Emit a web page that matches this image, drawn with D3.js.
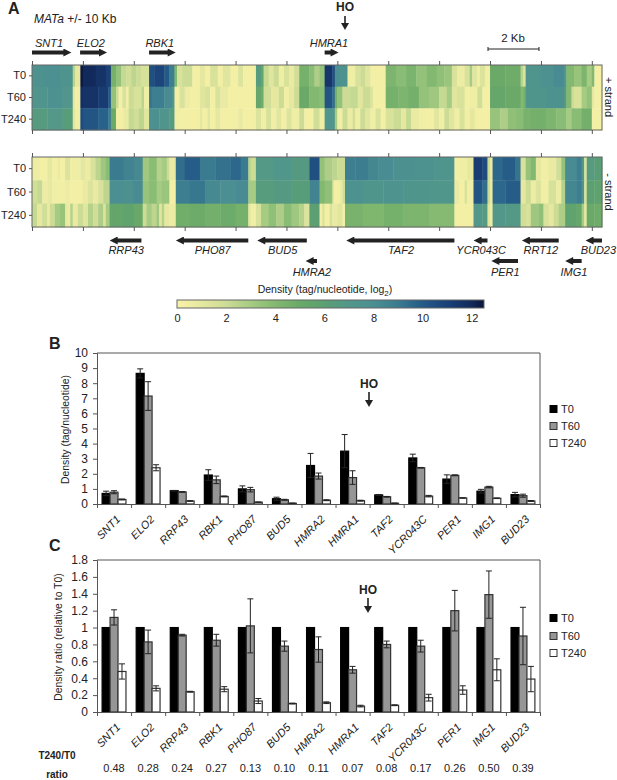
<!DOCTYPE html>
<html>
<head>
<meta charset="utf-8">
<script src="https://cdn.jsdelivr.net/npm/d3@7"></script>
<style>
  html, body { margin: 0; padding: 0; background: #fff; }
  text { font-family: "Liberation Sans", Arial, sans-serif; fill: #222; }
</style>
</head>
<body>
<div id="viz_tool"></div>
<script>
// heatmap rows: [end bin, log2 density], one bin is 0.1 kb
var plusT0 = [[5,7.6],[11,7.9],[16,7.5],[17,2.5],[19,1],[20,12.4],[25,12],[29,11.6],[31,11],[33,4.5],[35,3.5],[37,2.2],[39,1.8],[41,2.4],[43,2],[46,1.6],[48,10.4],[52,10.8],[54,10],[56,8.8],[57,4],[59,1.5],[63,2],[66,.3],[68,1],[70,.3],[73,1.5],[75,.4],[78,1.2],[81,.3],[83,1.4],[88,.3],[90,6.5],[91,5.5],[93,2.2],[95,1.2],[97,2],[99,.5],[101,1.5],[103,.8],[105,1.8],[109,4.5],[111,3.8],[113,2.8],[115,3.5],[118,11.5],[119,10.5],[121,8],[124,7.6],[127,.5],[129,1.5],[131,2],[133,1.2],[139,.3],[143,4.2],[147,3.8],[151,4.3],[155,3.5],[159,4],[162,3.6],[165,3.3],[167,1.5],[170,.6],[172,1.5],[173,3],[175,1.2],[176,.4],[178,1.4],[180,.4],[186,5],[192,4.8],[193,2.5],[194,1.5],[200,7.4],[205,7.7],[209,8.2],[210,7],[213,4],[216,3.4],[218,4.2],[220,3],[221,4],[224,.3]];
var plusT60 = [[6,7.4],[12,7.7],[16,7.2],[17,1],[19,.4],[20,11.8],[26,11.6],[30,11.2],[31,10],[33,3.5],[34,2],[35.5,.3],[37,1.5],[38,.4],[40,2],[43,1.5],[44,2.5],[46,.5],[47,9.2],[52,8.8],[55,8.2],[56,7],[58,.4],[60,1.5],[62,.6],[66,.3],[68,1.2],[70,1.5],[72,.3],[74,1.5],[77,.8],[88,.3],[90,5.3],[91,4.8],[94,1.8],[97,1],[99,2],[101,.4],[103,1],[105,2],[109,5],[113,4],[115,3.8],[118,10.2],[119,9.5],[120,4.5],[122,3.5],[125,2],[128,2.2],[130,1.2],[133,2],[134,1.3],[139,.3],[144,4.5],[148,4.2],[152,4.6],[156,3.5],[160,3.2],[163,2.2],[165,3],[167,1.2],[170,1.5],[172,.3],[175,.5],[177,1.8],[180,.3],[186,5.3],[192,5],[193,4],[194,4.5],[202,7.3],[209,7.6],[210,6.5],[212,4],[213,2],[216,1.5],[218,3],[220,3.5],[221,1],[224,.3]];
var plusT240 = [[6,6.6],[12,6.9],[16,6.3],[17,1.2],[19,.5],[20,10.6],[26,10.2],[30,9.8],[31,9],[33,5],[36,.3],[38,.8],[40,2.2],[42,1.8],[44,2.4],[46,1.2],[50,7.8],[54,7.4],[56,6.6],[58,.4],[66,.3],[67,1],[69,.3],[70,1.2],[72,.3],[74,1],[81,.3],[83,.8],[88,.3],[90,1.4],[92,.4],[94,1.6],[96,.4],[98,1.2],[100,.3],[102,1.4],[105,.5],[107,2],[110.6,.3],[113,1.8],[115,.5],[119,7.2],[120,3],[122,.4],[124,2],[126,.6],[127,1.8],[129,.5],[131,2],[133,1.2],[135,.4],[137,1.5],[139,.3],[142,1.5],[145,2],[147,1],[149,2.2],[152,.8],[155,.4],[158,.3],[160,1.2],[162,.4],[164,2],[166,1.2],[168,.5],[170,1.5],[172,.4],[174,1],[180,.3],[184,3.4],[187,2.8],[190,3.6],[193,3.8],[196,4.4],[202,4.6],[206,4.2],[210,3.8],[212,3],[216,3.8],[220,4.6],[224,.3]];
var minusT0 = [[3,.6],[6,.3],[8,1],[10,.3],[11,.8],[13,.3],[15,1.4],[16,.4],[19,.5],[21,1.1],[23,.6],[25,1.5],[27,2.4],[29,3.2],[30.5,3.8],[36,9],[40,8.6],[43.5,8.3],[46,3.2],[49,3.8],[51,2.6],[53,3],[54,2],[56.5,.8],[60,9.4],[66,9.9],[72,9],[78,9.3],[82,9.6],[85,9],[86,2.5],[88,2],[95,6.8],[102,7.1],[109,6.7],[113,10.4],[115,3.5],[118,2.8],[120,2.4],[123,2],[127,8.8],[132,8.9],[136,8.4],[142,8.1],[150,7.8],[158,7.6],[166,7.4],[168,.4],[171,.5],[173.5,1],[177,11.2],[179,10.6],[180,2],[181,.8],[185,9.6],[190,9.9],[192,9.2],[194,1.5],[196,3.4],[198,4],[200,1],[203,.4],[206,.8],[208,1.8],[209.5,3.5],[214,8.2],[216,8.8],[217,7],[218,1.5],[221,6.6],[224,6.2]];
var minusT60 = [[2,1.8],[4,2.2],[6,.6],[8,.9],[13,.4],[15,.6],[20,.3],[22,.8],[24,1.4],[26,.8],[28,1.5],[30.5,2.4],[36,8],[40,7.8],[43.5,8.2],[46,3.4],[49,3.8],[51,3],[54,3.3],[56.5,.3],[62,8.8],[68,9.1],[74,8.3],[80,8],[85,8.2],[88,3],[95,6.4],[102,6.7],[109,6.3],[113,8.6],[115,4],[118,3.6],[118.5,2],[121,.3],[122,.8],[123,1.8],[130,7.6],[138,7.3],[146,7.5],[156,7.3],[166,7.1],[168,.8],[170,.3],[171,1.5],[173.5,.4],[177,10.2],[179,9.4],[180,2],[181,.8],[186,9.6],[192,9.9],[194,1],[196,2],[198,.6],[200,1.4],[203,.4],[206,1.6],[208,.6],[209.5,2.6],[214,8.4],[216,8.8],[217,7.4],[218,1.5],[221,6],[224,5.7]];
var minusT240 = [[2,2.2],[4,1],[6,1.8],[7,.8],[9,2],[11,3],[13,3.4],[14,1],[15,.6],[16,2.6],[18,.8],[20,2],[22,1.2],[24,2.6],[26,1.8],[28,2.8],[29,1.4],[30.5,3],[36,5.4],[40,5.6],[43.5,5.1],[45,2],[47,3],[49,2.4],[50,3.2],[51,1.2],[52,2.6],[54,1],[56.5,.6],[62,4.7],[68,4.9],[74,4.6],[80,4.9],[85,4.5],[86,1],[88,.4],[90,1.6],[93,3],[96,3.6],[99,2.8],[102,3.8],[105,3.2],[107,2.6],[109,1.4],[113,6],[114,.3],[115,1.4],[117,.3],[118,1.6],[120,.8],[122,1.2],[123,.3],[130,4.4],[138,4.1],[146,4.5],[156,4.2],[166,3.9],[173.5,.3],[177,7],[179,6.6],[180,1.2],[181,.5],[186,7],[192,6.8],[194,1.8],[196,1.5],[199,3.2],[201,3.6],[203,1.5],[205,1],[207,2],[209.5,2.8],[214,5.6],[216,5.2],[217,3],[218,1],[221,5],[224,4.8]];

var rowNames = ["T0", "T60", "T240"];

// genes in bins
var plusGenes = ["SNT1", "ELO2", "RBK1", "HMRA1"];
var plusStart = [0, 18.9, 46, 115];
var plusEnd = [15, 29, 56, 120];
var minusGenes = ["RRP43", "PHO87", "BUD5", "HMRA2", "TAF2", "YCR043C", "PER1", "RRT12", "IMG1", "BUD23"];
var minusStart = [31, 57, 89, 108, 124, 174, 181, 193, 210, 218];
var minusEnd = [43, 85, 108, 112, 166, 179, 191, 207, 216, 224];
var minusLane = [0, 0, 0, 1, 0, 0, 1, 0, 1, 0];

var colorStops = [0, 1, 2, 3, 4, 5, 6, 7, 8, 9, 10, 11, 12, 12.5];
var colorValues = ["#f8f3a9", "#e6e8a0", "#ccdc95", "#a6cb83", "#82b870", "#6aa968", "#5b9f72", "#52978a", "#4b8f92", "#3a7b90", "#245a87", "#1a4078", "#122a5b", "#0c1538"];
var colorTicks = [0, 2, 4, 6, 8, 10, 12];

// bar panels
var genes = ["SNT1", "ELO2", "RRP43", "RBK1", "PHO87", "BUD5", "HMRA2", "HMRA1", "TAF2", "YCR043C", "PER1", "IMG1", "BUD23"];
var seriesNames = ["T0", "T60", "T240"];
var seriesFill = ["#000", "#969696", "#fff"];

var densT0 = [.7, 8.65, .88, 1.92, 1.0, .35, 2.55, 3.5, .6, 3.05, 1.65, .85, .62];
var densT60 = [.78, 7.15, .8, 1.6, .95, .28, 1.85, 1.75, .48, 2.4, 1.9, 1.12, .55];
var densT240 = [.3, 2.4, .2, .5, .12, .05, .25, .22, .05, .52, .4, .38, .2];
var densErrT0 = [.15, .3, .02, .35, .2, .1, .8, 1.1, .03, .25, .28, .12, .15];
var densErrT60 = [.1, .95, .02, .25, .15, .03, .2, .45, .02, .02, .03, .05, .1];
var densErrT240 = [.03, .2, .02, .03, .01, .01, .03, .03, .01, .05, .01, .02, .03];

var ratioT0 = [1, 1, 1, 1, 1, 1, 1, 1, 1, 1, 1, 1, 1];
var ratioT60 = [1.12, .83, .91, .85, 1.02, .78, .74, .5, .8, .78, 1.2, 1.39, .9];
var ratioT240 = [.48, .28, .24, .27, .13, .1, .11, .07, .08, .17, .26, .5, .39];
var ratioErrT0 = [0, 0, 0, 0, 0, 0, 0, 0, 0, 0, 0, 0, 0];
var ratioErrT60 = [.09, .14, .01, .07, .32, .06, .15, .04, .04, .07, .24, .28, .34];
var ratioErrT240 = [.09, .03, .005, .03, .03, .005, .01, .01, .005, .04, .05, .13, .15];

var ratioLabels = ["0.48", "0.28", "0.24", "0.27", "0.13", "0.10", "0.11", "0.07", "0.08", "0.17", "0.26", "0.50", "0.39"];

var svg = d3.select("#viz_tool").append("svg")
    .attr("width", 617)
    .attr("height", 780)
    .style("display", "block");

svg.append("defs").append("marker")
    .attr("id", "head")
    .attr("viewBox", "0 0 10 10")
    .attr("refX", 1).attr("refY", 5)
    .attr("markerWidth", 9).attr("markerHeight", 8)
    .attr("markerUnits", "userSpaceOnUse")
    .attr("orient", "auto")
  .append("path")
    .attr("d", "M0,0L10,5L0,10Z")
    .attr("fill", "#222");

var color = d3.scaleLinear().domain(colorStops).range(colorValues);
var binScale = d3.scaleLinear().domain([0, 224]).range([32, 602]);

function addText(x, y, str, size, opts) {
    opts = opts || {};
    return svg.append("text")
        .attr("x", x).attr("y", y)
        .attr("font-size", size + "px")
        .attr("font-weight", opts.bold ? "bold" : null)
        .attr("font-style", opts.italic ? "italic" : null)
        .attr("text-anchor", opts.anchor || "start")
        .text(str);
}

function downArrow(x, y1, y2) {
    svg.append("line")
        .attr("x1", x).attr("x2", x)
        .attr("y1", y1).attr("y2", y2 - 7)
        .attr("stroke", "#222").attr("stroke-width", 1.6);
    svg.append("path")
        .attr("d", "M" + (x - 4) + "," + (y2 - 7) + "L" + (x + 4) + "," + (y2 - 7) + "L" + x + "," + y2 + "Z")
        .attr("fill", "#222");
}

function styleAxis(g) {
    g.selectAll("path, line").attr("stroke", "#555").attr("stroke-width", 1);
    g.selectAll("text").attr("fill", "#222");
}

/* Heatmap strip */
function drawHeat(rows, top, bottom) {
    var yBand = d3.scaleBand().domain(rowNames).range([top, bottom]);
    var g = svg.append("g");

    rows.forEach(function(row, i) {
        var prev = 0;
        var cells = row.map(function(d) {
            var c = {start: prev, end: d[0], value: d[1]};
            prev = d[0];
            return c;
        });
        g.selectAll(null)
            .data(cells)
            .enter()
            .append("rect")
            .attr("x", function(d) { return binScale(d.start); })
            .attr("y", yBand(rowNames[i]))
            .attr("width", function(d) { return binScale(d.end) - binScale(d.start) + 0.4; })
            .attr("height", yBand.bandwidth() + 0.4)
            .attr("fill", function(d) { return color(d.value); });
    });

    svg.append("rect")
        .attr("x", 32).attr("y", top)
        .attr("width", 570).attr("height", bottom - top)
        .attr("fill", "none").attr("stroke", "#666").attr("stroke-width", 1);

    var tickVals = d3.range(0, 224, 20);
    svg.append("g").attr("transform", "translate(0," + top + ")")
        .call(d3.axisTop(binScale).tickValues(tickVals).tickSize(4).tickFormat("").tickSizeOuter(0))
        .call(styleAxis).select(".domain").remove();
    svg.append("g").attr("transform", "translate(0," + bottom + ")")
        .call(d3.axisBottom(binScale).tickValues(tickVals).tickSize(4).tickFormat("").tickSizeOuter(0))
        .call(styleAxis).select(".domain").remove();

    var yAxis = svg.append("g").attr("transform", "translate(32,0)")
        .call(d3.axisLeft(yBand).tickSize(3).tickPadding(3))
        .call(styleAxis);
    yAxis.select(".domain").remove();
    yAxis.selectAll("text").attr("font-size", "11px").attr("font-family", '"Liberation Sans", Arial, sans-serif');
}

drawHeat([plusT0, plusT60, plusT240], 65, 130);
drawHeat([minusT0, minusT60, minusT240], 157, 227);

/* Gene arrows */
function geneArrow(x1, x2, y) {
    svg.append("line")
        .attr("x1", x1).attr("x2", x2)
        .attr("y1", y).attr("y2", y)
        .attr("stroke", "#222").attr("stroke-width", 4)
        .attr("marker-end", "url(#head)");
}

plusGenes.forEach(function(name, i) {
    var a = binScale(plusStart[i]), b = binScale(plusEnd[i]);
    geneArrow(a, b - 6, 52.5);
    addText((a + b) / 2 - 2, 47, name, 11, {italic: true, anchor: "middle"});
});

minusGenes.forEach(function(name, i) {
    var a = binScale(minusStart[i]), b = binScale(minusEnd[i]);
    var lane = minusLane[i];
    geneArrow(b, a + 6, lane ? 261 : 240.5);
    var shift = name == "BUD23" ? 4 : 0;
    addText((a + b) / 2 + shift, lane ? 276 : 254, name, 11, {italic: true, anchor: "middle"});
});

/* Colour bar */
var cbScale = d3.scaleLinear().domain([0, 12.5]).range([177, 484]);
var grad = svg.select("defs").append("linearGradient").attr("id", "cbar");
colorStops.forEach(function(s, i) {
    grad.append("stop")
        .attr("offset", (s / 12.5 * 100) + "%")
        .attr("stop-color", colorValues[i]);
});
svg.append("rect")
    .attr("x", 177).attr("y", 300)
    .attr("width", 307).attr("height", 8)
    .attr("fill", "url(#cbar)")
    .attr("stroke", "#666").attr("stroke-width", 1);
var cbAxis = svg.append("g").attr("transform", "translate(0,308)")
    .call(d3.axisBottom(cbScale).tickValues(colorTicks).tickSize(0).tickPadding(6));
cbAxis.select(".domain").remove();
cbAxis.selectAll("text").attr("font-size", "11px").attr("font-family", '"Liberation Sans", Arial, sans-serif').attr("fill", "#222");

var cbTitle = addText(325, 293, "Density (tag/nucleotide, log", 10.5, {anchor: "middle"});
cbTitle.append("tspan").attr("font-size", "8px").attr("dy", 3).text("2");
cbTitle.append("tspan").attr("dy", -3).text(")");

/* Panel A annotations */
addText(8, 14, "A", 16, {bold: true});
var matTitle = addText(34, 23, "MATa", 12, {italic: true});
matTitle.append("tspan").attr("font-style", "normal").text(" +/- 10 Kb");
addText(345, 11, "HO", 12, {bold: true, anchor: "middle"});
downArrow(345, 16, 30);

svg.append("path")
    .attr("d", "M488,47V51M488,49H539M539,47V51")
    .attr("stroke", "#222").attr("fill", "none").attr("stroke-width", 1);
addText(513, 42, "2 Kb", 11.5, {anchor: "middle"});

addText(0, 0, "+ strand", 11)
    .attr("text-anchor", "middle")
    .attr("transform", "translate(605,97) rotate(90)");
addText(0, 0, "- strand", 11)
    .attr("text-anchor", "middle")
    .attr("transform", "translate(605,192) rotate(90)");

/* Bar panels */
function drawBars(series, errors, top, bottom, yMax, yTicks, yTitle, titleX) {
    var x0 = d3.scaleBand().domain(genes).range([97, 540]).paddingInner(0.3).paddingOuter(0.15);
    var x1 = d3.scaleBand().domain(seriesNames).range([0, x0.bandwidth()]);
    var y = d3.scaleLinear().domain([0, yMax]).range([bottom, top]);
    var sep = d3.scaleLinear().domain([0, genes.length]).range([97, 540]);

    seriesNames.forEach(function(s, k) {
        var rows = genes.map(function(g, i) {
            return {gene: g, value: series[k][i], err: errors[k][i]};
        });
        svg.append("g").selectAll("rect")
            .data(rows)
            .enter()
            .append("rect")
            .attr("x", function(d) { return x0(d.gene) + x1(s); })
            .attr("y", function(d) { return y(d.value); })
            .attr("width", x1.bandwidth())
            .attr("height", function(d) { return bottom - y(d.value); })
            .attr("fill", seriesFill[k])
            .attr("stroke", k == 0 ? "#000" : "#333")
            .attr("stroke-width", 1.2);

        svg.append("g").selectAll("path")
            .data(rows.filter(function(d) { return d.err > 0; }))
            .enter()
            .append("path")
            .attr("fill", "none")
            .attr("stroke", "#222")
            .attr("stroke-width", 1)
            .attr("d", function(d) {
                var cx = x0(d.gene) + x1(s) + x1.bandwidth() / 2;
                var hi = y(d.value + d.err), lo = y(Math.max(0, d.value - d.err));
                return "M" + (cx - 3) + "," + hi + "H" + (cx + 3) + "M" + cx + "," + hi + "V" + lo +
                       "M" + (cx - 3) + "," + lo + "H" + (cx + 3);
            });
    });

    // frame
    svg.append("path")
        .attr("d", "M97," + top + "H540V" + bottom)
        .attr("fill", "none").attr("stroke", "#555").attr("stroke-width", 1);

    var yAxis = svg.append("g").attr("transform", "translate(97,0)")
        .call(d3.axisLeft(y).tickValues(yTicks).tickSize(4).tickPadding(5).tickFormat(function(d) { return d3.format("~g")(d); }))
        .call(styleAxis);
    yAxis.selectAll("text").attr("font-size", "12px").attr("font-family", '"Liberation Sans", Arial, sans-serif');

    svg.append("g").attr("transform", "translate(0," + bottom + ")")
        .call(d3.axisBottom(sep).ticks(genes.length).tickSize(4).tickFormat(""))
        .call(styleAxis);

    genes.forEach(function(g) {
        addText(0, 0, g, 11, {italic: true, anchor: "end"})
            .attr("transform", "translate(" + (x0(g) + x0.bandwidth() / 2 + 7) + "," + (bottom + 16) + ") rotate(-45)");
    });

    addText(0, 0, yTitle, 10.4, {anchor: "middle"})
        .attr("transform", "translate(" + titleX + "," + ((top + bottom) / 2 + 1) + ") rotate(-90)");

    return x0;
}

function drawLegend(centers) {
    seriesNames.forEach(function(s, i) {
        svg.append("rect")
            .attr("x", 550).attr("y", centers[i] - 3.5)
            .attr("width", 7).attr("height", 7)
            .attr("fill", seriesFill[i])
            .attr("stroke", i == 0 ? "#000" : "#333");
        addText(561, centers[i] + 4, s, 11);
    });
}

var densTicks = d3.range(0, 11);
drawBars([densT0, densT60, densT240], [densErrT0, densErrT60, densErrT240], 353, 504, 10, densTicks, "Density (tag/nucleotide)", 69);
addText(49, 349, "B", 16, {bold: true});
addText(369, 388, "HO", 12, {bold: true, anchor: "middle"});
downArrow(369, 392, 407);
drawLegend([409, 426, 443]);

var ratioTicks = [0, .2, .4, .6, .8, 1, 1.2, 1.4, 1.6, 1.8];
var xRatio = drawBars([ratioT0, ratioT60, ratioT240], [ratioErrT0, ratioErrT60, ratioErrT240], 560, 712, 1.8, ratioTicks, "Density ratio (relative to T0)", 62);
addText(49, 551, "C", 16, {bold: true});
addText(368, 594, "HO", 12, {bold: true, anchor: "middle"});
downArrow(368, 598, 613);
drawLegend([618, 636, 653]);

/* T240/T0 row */
addText(57, 759, "T240/T0", 10, {bold: true, anchor: "middle"});
addText(57, 778, "ratio", 10, {bold: true, anchor: "middle"});
genes.forEach(function(g, i) {
    addText(xRatio(g) + xRatio.bandwidth() / 2, 772, ratioLabels[i], 11, {anchor: "middle"});
});
</script>
</body>
</html>
